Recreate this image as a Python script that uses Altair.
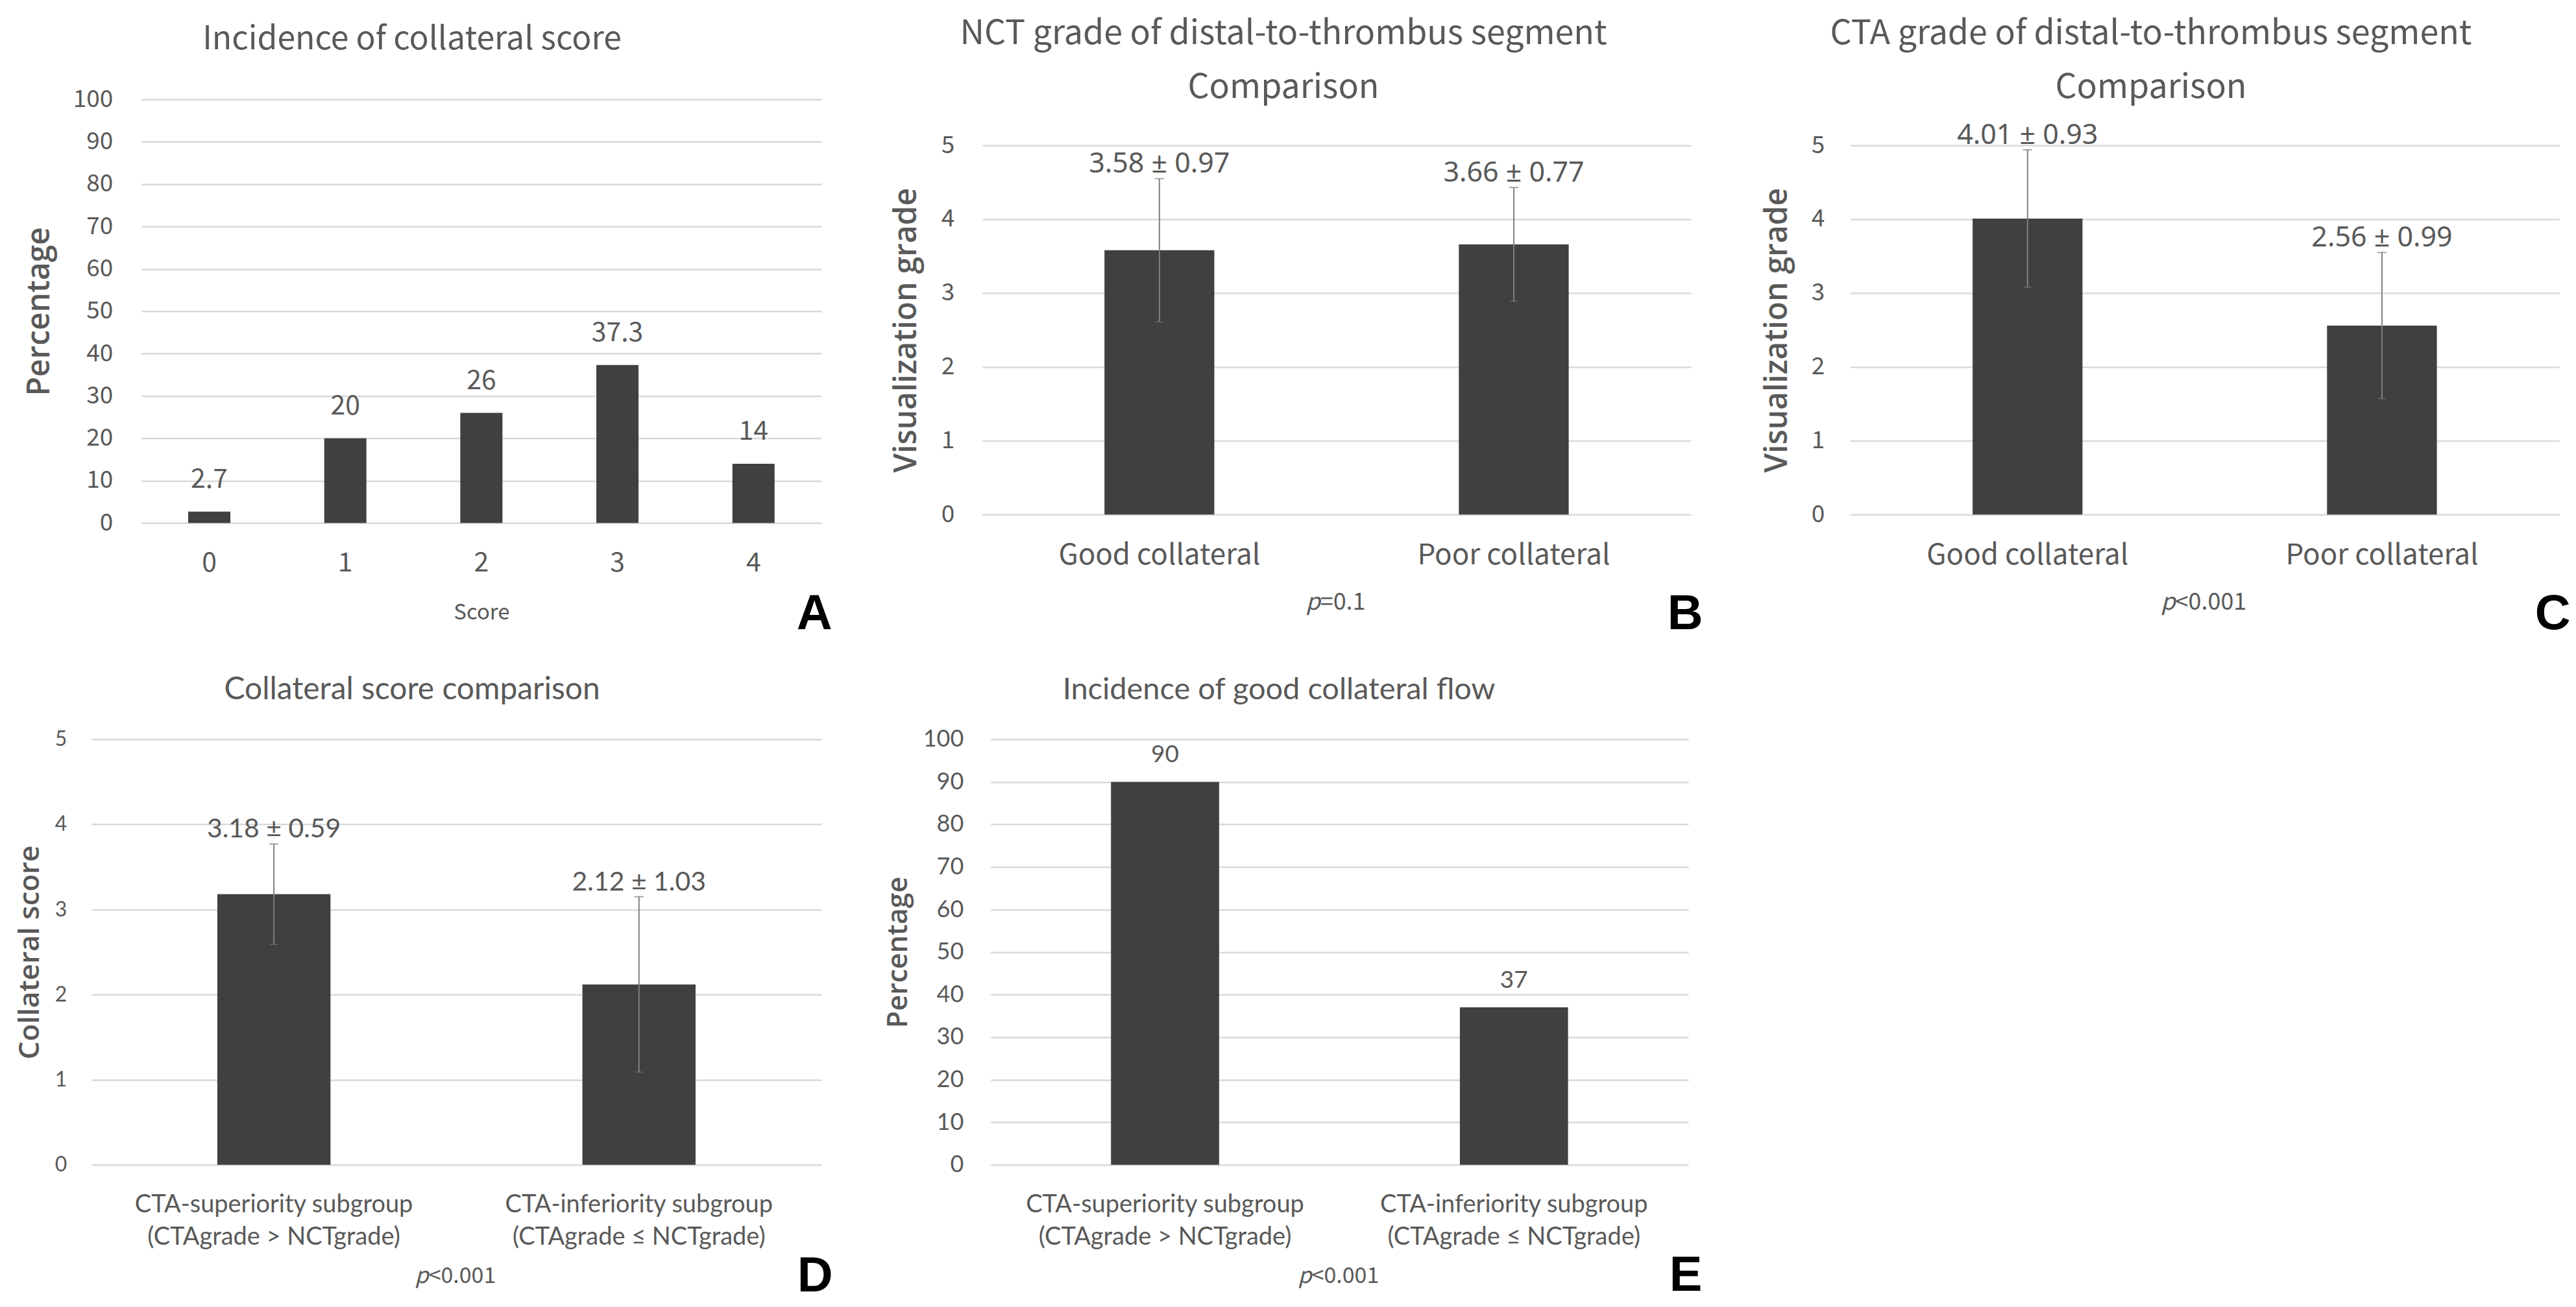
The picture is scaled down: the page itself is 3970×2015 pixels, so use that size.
import altair as alt
import pandas as pd

# ---------------- data ----------------
a_scores = ["0", "1", "2", "3", "4"]
a_pct = [2.7, 20, 26, 37.3, 14]

bc_groups = ["Good collateral", "Poor collateral"]
b_mean = [3.58, 3.66]
b_sd = [0.97, 0.77]
c_mean = [4.01, 2.56]
c_sd = [0.93, 0.99]

de_groups = ["CTA-superiority subgroup|(CTAgrade > NCTgrade)",
             "CTA-inferiority subgroup|(CTAgrade \u2264 NCTgrade)"]
d_mean = [3.18, 2.12]
d_sd = [0.59, 1.03]
e_pct = [90, 37]

p_b = "=0.1"
p_c = "<0.001"
p_d = "<0.001"
p_e = "<0.001"

# ---------------- style ----------------
GRID = "#d9d9d9"
TXT = "#595959"
BAR = "#404040"
ERR = "#808080"
KR = "Noto Sans CJK KR"
NS = "Noto Sans"
CAL = "Lato"
YT = "Open Sans"


def spacer(w, h):
    return alt.Chart(pd.DataFrame({"z": [0]})).mark_point(
        opacity=0, size=1).encode(x=alt.value(0), y=alt.value(0)).properties(
        width=w, height=h)


def txt(s, x, y, font, fs, **kw):
    return alt.Chart(pd.DataFrame({"t": [s]})).mark_text(
        font=font, fontSize=fs, baseline="middle", **kw).encode(
        text="t:N", x=alt.value(x), y=alt.value(y))


def panel(cats, vals, sds, W, H, ymax, ystep, font, titles, title_fs, title_x,
          title_ys, tick_fs, lab_pad, xlab_fs, xlab_pad, ytitle, ytitle_fs,
          ytitle_x, val_font, val_fs, val_dy, letter, letter_x, letter_y,
          pval=None, pval_fs=36, pval_y=0, xtitle=None, xtitle_fs=0,
          xtitle_y=0, multiline=False):
    rows = {"cat": cats, "val": vals}
    if sds is not None:
        rows["lo"] = [v - s for v, s in zip(vals, sds)]
        rows["hi"] = [v + s for v, s in zip(vals, sds)]
        rows["lab"] = [f"{v:.2f} \u00b1 {s:.2f}" for v, s in zip(vals, sds)]
    else:
        rows["lab"] = [f"{v:g}" for v in vals]
    df = pd.DataFrame(rows)

    axis_kw = dict(labelAngle=0, labelFont=font, labelFontSize=xlab_fs,
                   labelColor=TXT, labelPadding=xlab_pad, labelBaseline="middle",
                   labelLimit=2000, ticks=False, tickSize=0, domain=False,
                   grid=False)
    if multiline:
        axis_kw["labelExpr"] = "split(datum.label, '|')"
        axis_kw["labelLineHeight"] = 50
    if xtitle:
        axis_kw.update(title=xtitle, titleFont=font, titleFontSize=xtitle_fs,
                       titleFontWeight="normal", titleColor=TXT,
                       titleX=W / 2, titleY=xtitle_y, titleBaseline="middle")
    else:
        axis_kw["title"] = None

    x = alt.X("cat:N", sort=cats,
              scale=alt.Scale(paddingInner=0.69, paddingOuter=0.345),
              axis=alt.Axis(**axis_kw))
    y = alt.Y("val:Q",
              scale=alt.Scale(domain=[0, ymax], nice=False, zero=True),
              axis=alt.Axis(values=list(range(0, ymax + 1, ystep)), format="d",
                            grid=True, gridColor=GRID, gridWidth=2.5,
                            domain=False, ticks=False, tickSize=0,
                            labelPadding=lab_pad, labelFont=font,
                            labelFontSize=tick_fs, labelColor=TXT,
                            title=ytitle, titleFont=YT,
                            titleFontSize=ytitle_fs, titleFontWeight=600,
                            titleColor=TXT, titleAngle=-90, titleX=ytitle_x,
                            titleY=H / 2, titleBaseline="middle",
                            titleAlign="center"))

    base = alt.Chart(df)
    layers = [base.mark_bar(color=BAR).encode(x=x, y=y)]
    top_field = "val:Q"
    if sds is not None:
        layers.append(base.mark_rule(color=ERR, strokeWidth=2).encode(
            x=x, y="lo:Q", y2="hi:Q"))
        layers.append(base.mark_tick(color=ERR, thickness=2, size=14).encode(
            x=x, y="hi:Q"))
        layers.append(base.mark_tick(color=ERR, thickness=1.5, size=12,
                                     opacity=0.6).encode(x=x, y="lo:Q"))
        top_field = "hi:Q"
    layers.append(base.mark_text(font=val_font, fontSize=val_fs, color=TXT,
                                 baseline="middle", dy=val_dy).encode(
        x=x, y=top_field, text="lab:N"))

    for t, ty in zip(titles, title_ys):
        layers.append(txt(t, title_x, ty, font, title_fs, color=TXT,
                          align="center"))

    layers.append(txt(letter, letter_x, letter_y, "Liberation Sans", 76,
                      fontWeight="bold", color="black", align="center"))

    if pval:
        pw = 0.55 * pval_fs
        rw = sum(0.27 * pval_fs if ch == "." else 0.56 * pval_fs for ch in pval)
        px = W / 2 + pw - (pw + rw) / 2
        layers.append(txt("p", px, pval_y, KR, pval_fs, fontStyle="italic",
                          color=TXT, align="right"))
        layers.append(txt(pval, px, pval_y, KR, pval_fs, color=TXT,
                          align="left"))

    return alt.layer(*layers).properties(width=W, height=H)


def place(ch, dx, dy):
    inner = alt.vconcat(spacer(1, dy), ch, spacing=0, bounds="flush")
    return alt.hconcat(spacer(dx, 1), inner, spacing=0, bounds="flush")


A = panel(a_scores, a_pct, None, 1050, 654, 100, 10, KR,
          ["Incidence of collateral score"], 50, 418, [-92],
          37, 44, 41, 62, "Percentage", 48, -156, KR, 41, -49,
          "A", 1050 - 11, 654 + 141,
          xtitle="Score", xtitle_fs=33, xtitle_y=138)

B = panel(bc_groups, b_mean, b_sd, 1094, 570, 5, 1, KR,
          ["NCT grade of  distal-to-thrombus segment", "Comparison"], 52, 465,
          [-172, -89], 37, 43, 44, 63, "Visualization grade", 48, -116,
          NS, 43, -22, "B", 1094 - 9, 570 + 154,
          pval=p_b, pval_fs=36, pval_y=570 + 136)

C = panel(bc_groups, c_mean, c_sd, 1094, 570, 5, 1, KR,
          ["CTA grade of distal-to-thrombus segment", "Comparison"], 52, 464,
          [-172, -89], 37, 40, 44, 63, "Visualization grade", 48, -112,
          NS, 43, -22, "C", 1094 - 10, 570 + 154,
          pval=p_c, pval_fs=36, pval_y=570 + 136)

D = panel(de_groups, d_mean, d_sd, 1127, 657, 5, 1, CAL,
          ["Collateral score comparison"], 48, 495, [-76],
          32, 38, 38, 62, "Collateral score", 44, -94, CAL, 41, -22,
          "D", 1127 - 10, 657 + 172, pval=p_d, pval_fs=34, pval_y=657 + 172,
          multiline=True)

E = panel(de_groups, e_pct, None, 1077, 657, 100, 10, CAL,
          ["Incidence of good collateral flow"], 47, 445, [-76],
          36, 42, 38, 62, "Percentage", 43, -142, CAL, 37, -41,
          "E", 1077 - 4, 657 + 171, pval=p_e, pval_fs=34, pval_y=657 + 172,
          multiline=True)

# plot-area origins (page px minus the 8 px page margin)
chart = alt.vconcat(
    place(A, 209, 143),
    place(B, 1507, 214),
    place(C, 2847, 214),
    place(D, 132, 1131),
    place(E, 1520, 1131),
    spacing=0, bounds="flush",
).properties(
    padding=0,
    background="white",
).configure_view(stroke=None)

chart.save("out.html", embed_options={"renderer": "svg", "actions": False})
